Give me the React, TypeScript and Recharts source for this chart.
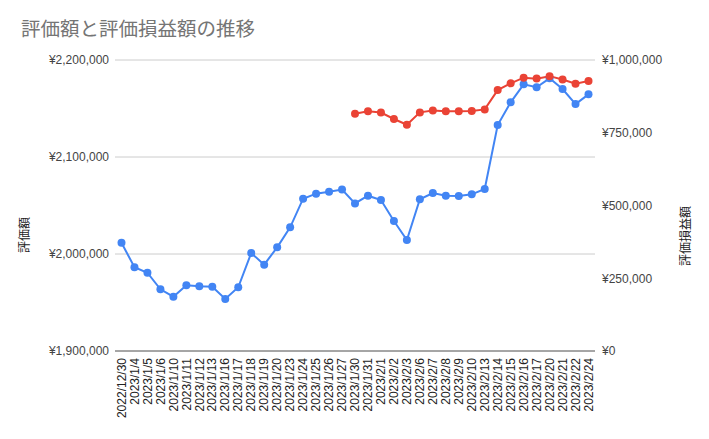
import React from "react";
import { LineChart, Line, XAxis, YAxis, CartesianGrid, ReferenceLine } from "recharts";

const categories = [
  "2022/12/30", "2023/1/4", "2023/1/5", "2023/1/6", "2023/1/10", "2023/1/11", "2023/1/12", "2023/1/13",
  "2023/1/16", "2023/1/17", "2023/1/18", "2023/1/19", "2023/1/20", "2023/1/23", "2023/1/24", "2023/1/25",
  "2023/1/26", "2023/1/27", "2023/1/30", "2023/1/31", "2023/2/1", "2023/2/2", "2023/2/3", "2023/2/6",
  "2023/2/7", "2023/2/8", "2023/2/9", "2023/2/10", "2023/2/13", "2023/2/14", "2023/2/15", "2023/2/16",
  "2023/2/17", "2023/2/20", "2023/2/21", "2023/2/22", "2023/2/24",
];

const valuation = [
  2011600, 1986300, 1980700, 1963600, 1956000, 1967700, 1966700, 1966300,
  1953600, 1965700, 2001000, 1989000, 2006900, 2027500, 2057000, 2062200,
  2064200, 2066500, 2052100, 2060100, 2055700, 2034000, 2014400, 2056400,
  2062900, 2060100, 2059800, 2061500, 2067000, 2133000, 2156400, 2174900,
  2171900, 2181100, 2170100, 2154600, 2164600,
];

const profit: (number | null)[] = [
  null, null, null, null, null, null, null, null,
  null, null, null, null, null, null, null, null,
  null, null, 815300, 824000, 819500, 797200, 777600, 820000,
  826500, 824000, 824000, 824600, 830300, 896500, 919700, 939200,
  936000, 944500, 932700, 918800, 927700,
];

const leftTicks = [1900000, 2000000, 2100000, 2200000];
const rightTicks = [0, 250000, 500000, 750000, 1000000];

const title = "評価額と評価損益額の推移";
const leftTitle = "評価額";
const rightTitle = "評価損益額";

const data = categories.map((c, i) => ({ date: c, valuation: valuation[i], profit: profit[i] }));

const FONT = "Arial, 'Liberation Sans', 'Noto Sans CJK JP', sans-serif";
const yen = (v: number) => "¥" + v.toLocaleString("en-US");

const XTick = (props: any) => {
  const { x, y, payload } = props;
  return (
    <text
      x={x}
      y={y}
      transform={`rotate(-90, ${x}, ${y})`}
      textAnchor="end"
      dy="0.35em"
      fontSize={12}
      fontFamily={FONT}
      fill="#222"
    >
      {payload.value}
    </text>
  );
};

export default function App() {
  return (
    <div style={{ position: "absolute", left: 0, top: 0, width: 709, height: 439, background: "#fff" }}>
      <LineChart
        width={709}
        height={439}
        data={data}
        margin={{ top: 60, right: 34, bottom: 8, left: 35 }}
      >
        <CartesianGrid vertical={false} stroke="#cccccc" yAxisId="left" />
        <XAxis
          dataKey="date"
          interval={0}
          tickLine={false}
          axisLine={false}
          tickSize={0}
          tickMargin={7}
          height={80}
          padding={{ left: 6.5, right: 6.5 }}
          tick={<XTick />}
        />
        <YAxis
          yAxisId="left"
          orientation="left"
          domain={[1900000, 2200000]}
          ticks={leftTicks}
          tickFormatter={yen}
          tickLine={false}
          axisLine={false}
          tickSize={0}
          tickMargin={6}
          width={80}
          tick={{ fontSize: 12, fill: "#444", fontFamily: FONT }}
        />
        <YAxis
          yAxisId="right"
          orientation="right"
          domain={[0, 1000000]}
          ticks={rightTicks}
          tickFormatter={yen}
          tickLine={false}
          axisLine={false}
          tickSize={0}
          tickMargin={7}
          width={80}
          tick={{ fontSize: 12, fill: "#444", fontFamily: FONT, textAnchor: "start" }}
        />
        <ReferenceLine yAxisId="left" y={1900000} stroke="#666" strokeWidth={1} />
        <Line
          yAxisId="left"
          dataKey="valuation"
          stroke="#4285F4"
          strokeWidth={2}
          dot={{ r: 4, fill: "#4285F4", stroke: "#4285F4", strokeWidth: 0 }}
          activeDot={false}
          isAnimationActive={false}
        />
        <Line
          yAxisId="right"
          dataKey="profit"
          stroke="#EA4335"
          strokeWidth={2}
          dot={{ r: 4, fill: "#EA4335", stroke: "#EA4335", strokeWidth: 0 }}
          activeDot={false}
          isAnimationActive={false}
        />
      </LineChart>
      <svg
        width={709}
        height={439}
        style={{ position: "absolute", left: 0, top: 0, pointerEvents: "none" }}
      >
        <text x={21} y={36} fontSize={19.5} fill="#757575" fontFamily={FONT}>
          {title}
        </text>
        <text
          x={25}
          y={235}
          transform="rotate(-90, 25, 235)"
          textAnchor="middle"
          dominantBaseline="central"
          fontSize={12}
          fill="#222"
          fontFamily={FONT}
        >
          {leftTitle}
        </text>
        <text
          x={686}
          y={236}
          transform="rotate(-90, 686, 236)"
          textAnchor="middle"
          dominantBaseline="central"
          fontSize={12}
          fill="#222"
          fontFamily={FONT}
        >
          {rightTitle}
        </text>
      </svg>
    </div>
  );
}
